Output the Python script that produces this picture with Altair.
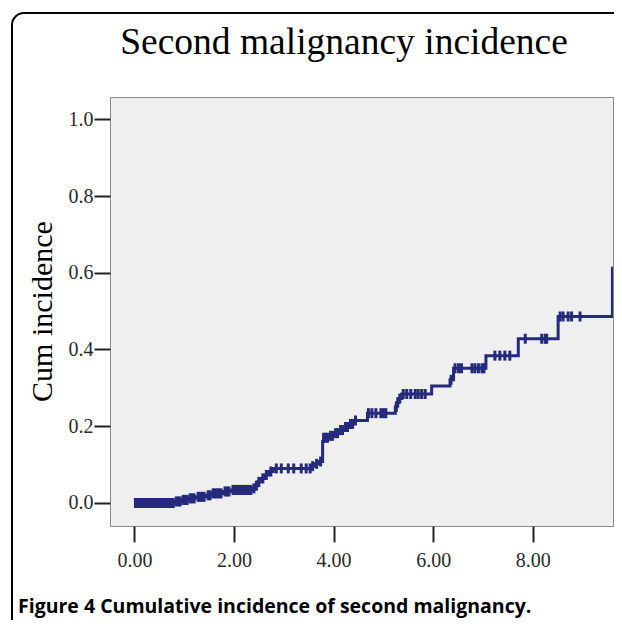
import altair as alt
import numpy as np
import pandas as pd

# Step function of cumulative incidence (time, cumulative incidence)
step_time = [0.00, 0.82, 0.95, 1.10, 1.25, 1.45, 1.55, 1.78, 1.95, 2.36, 2.42, 2.48,
             2.55, 2.62, 2.70, 2.79, 3.56, 3.62, 3.70, 3.78, 3.80, 3.90, 4.00, 4.10,
             4.20, 4.30, 4.40, 4.68, 5.24, 5.27, 5.30, 5.37, 5.97, 6.34, 6.41, 7.06,
             7.71, 8.51, 9.60, 9.62]
step_cum = [0.000, 0.004, 0.008, 0.012, 0.016, 0.020, 0.025, 0.030, 0.034, 0.038, 0.045, 0.055,
            0.064, 0.073, 0.082, 0.090, 0.096, 0.102, 0.108, 0.160, 0.170, 0.175, 0.182, 0.190,
            0.198, 0.206, 0.215, 0.234, 0.250, 0.262, 0.272, 0.284, 0.305, 0.321, 0.351, 0.384,
            0.428, 0.486, 0.612, 0.612]

# Censored observations (time)
censor_time = [0.02, 0.06, 0.10, 0.14, 0.18, 0.22, 0.26, 0.30, 0.34, 0.38, 0.42, 0.46,
               0.50, 0.54, 0.58, 0.62, 0.66, 0.70, 0.74, 0.78, 0.84, 0.88, 0.92, 0.98,
               1.02, 1.06, 1.12, 1.16, 1.20, 1.28, 1.32, 1.36, 1.40, 1.48, 1.52, 1.58,
               1.62, 1.66, 1.70, 1.74, 1.82, 1.86, 1.90, 1.98, 2.02, 2.06, 2.10, 2.14,
               2.18, 2.22, 2.26, 2.30, 2.34, 2.40, 2.45, 2.50, 2.58, 2.65, 2.74, 2.85,
               2.95, 3.09, 3.20, 3.35, 3.45, 3.53, 3.58, 3.66, 3.74, 3.80, 3.84, 3.88,
               3.94, 3.98, 4.04, 4.08, 4.14, 4.18, 4.24, 4.28, 4.34, 4.38, 4.44, 4.70,
               4.77, 4.85, 4.95, 5.00, 5.05, 5.26, 5.29, 5.33, 5.40, 5.47, 5.55, 5.64,
               5.70, 5.77, 5.84, 6.36, 6.44, 6.51, 6.57, 6.78, 6.84, 6.91, 6.98, 7.02,
               7.24, 7.34, 7.44, 7.54, 7.85, 8.18, 8.25, 8.28, 8.55, 8.61, 8.71, 8.78,
               8.95]

x_ticks = [0, 2, 4, 6, 8]
y_ticks = [0.0, 0.2, 0.4, 0.6, 0.8, 1.0]

title_text = "Second malignancy incidence"
caption_text = "Figure 4 Cumulative incidence of second malignancy."

NAVY = "#252A7C"

line_df = pd.DataFrame({"t": step_time, "cum": step_cum})
idx = np.searchsorted(np.array(step_time), np.array(censor_time), side="right") - 1
cens_df = pd.DataFrame({"t": censor_time, "cum": np.array(step_cum)[idx]})

xs = alt.Scale(domain=[-0.49, 9.612], nice=False, zero=False)
ys = alt.Scale(domain=[-0.06, 1.058], nice=False, zero=False)

x_enc = alt.X("t:Q", scale=xs, axis=alt.Axis(
    values=x_ticks, format=".2f", title=None, grid=False, domain=False,
    tickSize=16, tickWidth=2, tickColor="#222222", labelPadding=8,
    labelFont="Liberation Serif", labelFontSize=20, labelColor="#2a2a2a"))
y_enc = alt.Y("cum:Q", scale=ys, axis=alt.Axis(
    values=y_ticks, format=".1f", title="Cum incidence", grid=False, domain=False,
    tickSize=16, tickWidth=2, tickColor="#222222", labelPadding=1,
    labelFont="Liberation Serif", labelFontSize=20, labelColor="#2a2a2a",
    titleFont="Liberation Serif", titleFontSize=30, titleFontWeight="normal",
    titleColor="black", titleX=-68, titleY=214, titleAlign="center",
    titleBaseline="middle", titleAngle=-90))

one = pd.DataFrame({"a": [0]})

line = alt.Chart(line_df).mark_line(
    interpolate="step-after", color=NAVY, strokeWidth=3, clip=True
).encode(x=x_enc, y=y_enc)

ticks = alt.Chart(cens_df).mark_tick(
    orient="vertical", size=10, thickness=3, color=NAVY, opacity=1
).encode(x=alt.X("t:Q", scale=xs), y=alt.Y("cum:Q", scale=ys))

frame = alt.Chart(one).mark_rect(
    fillOpacity=0, stroke="black", strokeWidth=2, cornerRadius=12
).encode(x=alt.value(-98), x2=alt.value(560), y=alt.value(-84), y2=alt.value(600))

title = alt.Chart(one).mark_text(
    text=title_text, font="Liberation Serif", fontSize=37.5, color="black",
    align="center", baseline="alphabetic"
).encode(x=alt.value(234), y=alt.value(-43))

caption = alt.Chart(one).mark_text(
    text=caption_text, font="Open Sans", fontSize=19.5, fontWeight="bold",
    color="black", align="left", baseline="alphabetic"
).encode(x=alt.value(-92), y=alt.value(516))

chart = alt.layer(frame, line, ticks, title, caption).properties(
    width=503, height=429,
    background="white",
    autosize=alt.AutoSizeParams(type="none"),
    padding={"left": 102, "top": 89, "right": 1, "bottom": 94},
    view=alt.ViewBackground(fill="#EFEFEF", stroke="#8a8a8a", strokeWidth=1),
)

chart.save("out.html", embed_options={"renderer": "svg", "actions": False})
